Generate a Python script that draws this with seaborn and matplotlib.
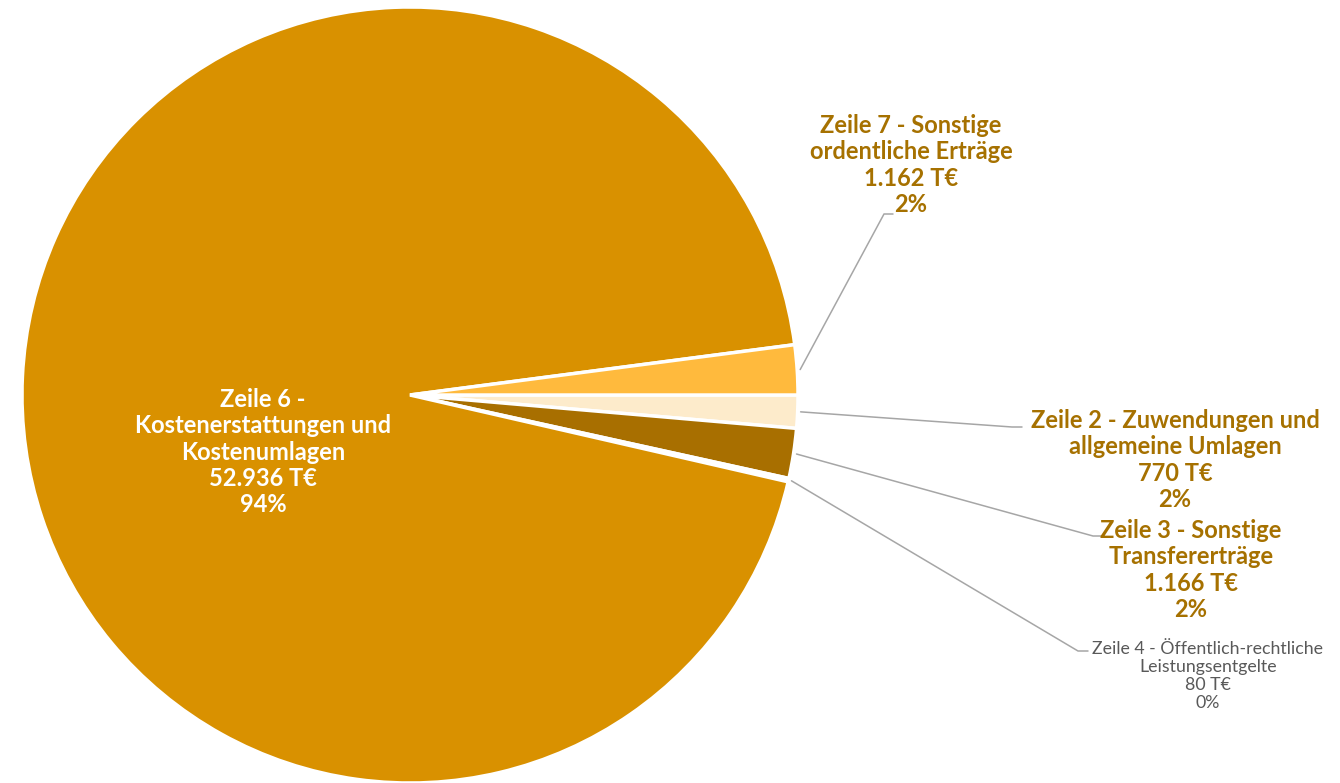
import seaborn as sns
import matplotlib.pyplot as plt
import numpy as np

sns.set_theme(style="white")
plt.rcParams['font.family'] = ['Lato', 'DejaVu Sans']

# Daten (Reihenfolge im Uhrzeigersinn ab 3 Uhr)
kategorien = ["Zeile 2 - Zuwendungen und\nallgemeine Umlagen",
              "Zeile 3 - Sonstige\nTransfererträge",
              "Zeile 4 - Öffentlich-rechtliche\nLeistungsentgelte",
              "Zeile 6 -\nKostenerstattungen und\nKostenumlagen",
              "Zeile 7 - Sonstige\nordentliche Erträge"]
werte = [770, 1166, 80, 52936, 1162]
prozent = ["2%", "2%", "0%", "94%", "2%"]
betrag = ["770 T€", "1.166 T€", "80 T€", "52.936 T€", "1.162 T€"]

farben = sns.color_palette(["#FDEBCB", "#A86F00", "#D9D0C0", "#D99100", "#FFBA3D"])

W, H = 1340, 783
fig = plt.figure(figsize=(W / 100, H / 100), dpi=100)
ax = fig.add_axes([0, 0, 1, 1])

cx, cy, r = 410, 388, 388
wedges, _ = ax.pie(werte, colors=farben, startangle=0, counterclock=False,
                   center=(cx, cy), radius=r,
                   wedgeprops=dict(edgecolor="white", linewidth=2.5))
ax.set_xlim(0, W)
ax.set_ylim(0, H)
ax.set_aspect("equal")
ax.axis("off")

braun = "#A67100"
# Beschriftungspositionen (Bildpixel, y von oben) und Knickpunkte der Führungslinien
label_pos = {0: (1175, 460), 1: (1191, 570), 2: (1208, 676), 4: (911, 165)}
knick = {0: ((1012, 427), (1022, 427)),
         1: ((1093, 536), (1102, 536)),
         2: ((1078, 651), (1088, 651)),
         4: ((884, 214), (893, 214))}

for i, w in enumerate(wedges):
    text = f"{kategorien[i]}\n{betrag[i]}\n{prozent[i]}"
    if i == 3:
        ax.text(263, H - 452, text, ha="center", va="center", color="white",
                fontsize=17, fontweight="bold", linespacing=1.18)
        continue
    mid = np.deg2rad((w.theta1 + w.theta2) / 2)
    x0 = cx + (r + 3) * np.cos(mid)
    y0 = cy + (r + 3) * np.sin(mid)
    (x1, y1), (x2, y2) = knick[i]
    ax.plot([x0, x1, x2], [y0, H - y1, H - y2], color="#A6A6A6", lw=1.1)
    lx, ly = label_pos[i]
    if i == 2:
        ax.text(lx, H - ly, text, ha="center", va="center", color="#595959",
                fontsize=12.8, linespacing=1.16)
    else:
        ax.text(lx, H - ly, text, ha="center", va="center", color=braun,
                fontsize=17, fontweight="bold", linespacing=1.18)

fig.savefig("out.png", dpi=100)
